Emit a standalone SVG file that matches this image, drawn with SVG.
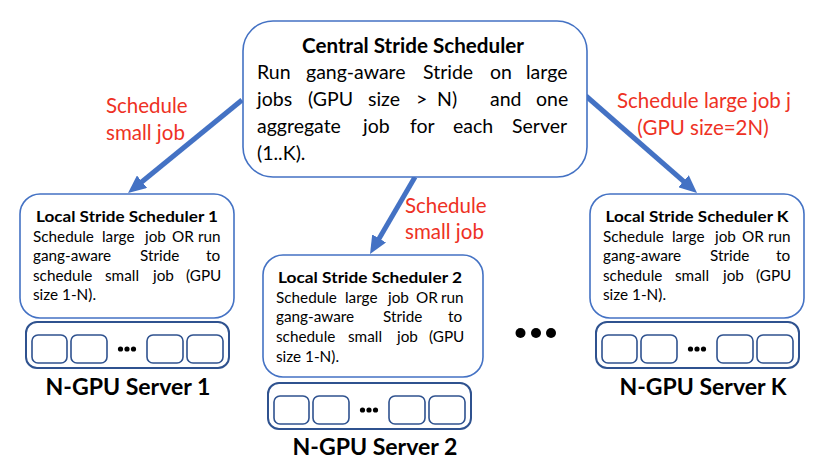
<svg xmlns="http://www.w3.org/2000/svg" width="826" height="470" viewBox="0 0 826 470">
<style>
.box{fill:#fff;stroke:#4472C4;stroke-width:1.6}
.srv{fill:#fff;stroke:#2F528F;stroke-width:2}
.gpu{fill:#fff;stroke:#2F528F;stroke-width:1.6}
.t{font-family:Lato,"Liberation Sans",sans-serif;fill:#000}
.ttl{font-weight:bold}
.cb{font-size:19.5px}
.lb{font-size:15.3px}
.red{font-family:Lato,"Liberation Sans",sans-serif;fill:#EE3124;font-size:20.5px}
.srvl{font-family:Lato,"Liberation Sans",sans-serif;font-weight:bold;font-size:23px;fill:#000;text-anchor:middle}
.arr{stroke:#4472C4;stroke-width:5;fill:none}
.dot{fill:#000}
</style>
<defs>
<marker id="ah" markerUnits="userSpaceOnUse" markerWidth="18" markerHeight="16" viewBox="0 0 18 16" refX="4" refY="8" orient="auto">
<path d="M0,0 L18,8 L0,16 z" fill="#4472C4"/>
</marker>
<g id="gpus">
<rect class="srv" x="0" y="0" width="203" height="46" rx="11"/>
<rect class="gpu" x="6" y="13" width="35" height="28" rx="6"/>
<rect class="gpu" x="45" y="13" width="36" height="28" rx="6"/>
<rect class="gpu" x="121" y="13" width="36" height="28" rx="6"/>
<rect class="gpu" x="161" y="13" width="36" height="28" rx="6"/>
<circle class="dot" cx="94.5" cy="27" r="2.6"/>
<circle class="dot" cx="101" cy="27" r="2.6"/>
<circle class="dot" cx="107.5" cy="27" r="2.6"/>
</g>
</defs>

<g id="connectors">
<line class="arr" x1="242" y1="100" x2="138.9" y2="184.2" marker-end="url(#ah)"/>
<line class="arr" x1="586" y1="96" x2="686.5" y2="183.8" marker-end="url(#ah)"/>
<line class="arr" x1="415" y1="177" x2="377.1" y2="241.9" marker-end="url(#ah)"/>
</g>

<g id="central">
<rect class="box" x="243" y="21" width="344" height="156" rx="30"/>
<text x="413" y="53" class="t ttl" font-size="20" text-anchor="middle" textLength="222" lengthAdjust="spacingAndGlyphs">Central Stride Scheduler</text>
<text y="79" class="t cb"><tspan x="257">Run</tspan><tspan x="306">gang-aware</tspan><tspan x="423">Stride</tspan><tspan x="490">on</tspan><tspan x="526">large</tspan></text>
<text y="106" class="t cb"><tspan x="257">jobs</tspan><tspan x="308">(GPU</tspan><tspan x="368">size</tspan><tspan x="416">&gt;</tspan><tspan x="437">N)</tspan><tspan x="490">and</tspan><tspan x="536">one</tspan></text>
<text y="133" class="t cb"><tspan x="257">aggregate</tspan><tspan x="363">job</tspan><tspan x="410">for</tspan><tspan x="453">each</tspan><tspan x="512">Server</tspan></text>
<text y="160" class="t cb"><tspan x="257">(1..K).</tspan></text>
</g>

<g id="label-left">
<text class="red"><tspan x="106" y="113">Schedule</tspan><tspan x="106" y="140">small job</tspan></text>
</g>
<g id="label-mid">
<text class="red"><tspan x="405" y="213">Schedule</tspan><tspan x="405" y="239">small job</tspan></text>
</g>
<g id="label-right">
<text class="red" text-anchor="middle"><tspan x="704" y="108">Schedule large job j</tspan><tspan x="703" y="135">(GPU size=2N)</tspan></text>
</g>

<g id="local1">
<rect class="box" x="20" y="194" width="214" height="124" rx="20"/>
<text x="127" y="222" class="t ttl" font-size="16" text-anchor="middle" textLength="182" lengthAdjust="spacingAndGlyphs">Local Stride Scheduler 1</text>
<text y="242" class="t lb"><tspan x="33">Schedule</tspan><tspan x="102">large</tspan><tspan x="145">job</tspan><tspan x="172">OR</tspan><tspan x="198">run</tspan></text>
<text y="261" class="t lb"><tspan x="33">gang-aware</tspan><tspan x="140">Stride</tspan><tspan x="206">to</tspan></text>
<text y="281" class="t lb"><tspan x="33">schedule</tspan><tspan x="105">small</tspan><tspan x="153">job</tspan><tspan x="186">(GPU</tspan></text>
<text y="300" class="t lb"><tspan x="33">size 1-N).</tspan></text>
</g>
<g id="server1">
<use href="#gpus" x="26" y="322"/>
<text x="128" y="395" class="srvl" textLength="165" lengthAdjust="spacingAndGlyphs">N-GPU Server 1</text>
</g>

<g id="local2">
<rect class="box" x="263" y="255" width="220" height="122" rx="20"/>
<text x="370" y="283" class="t ttl" font-size="16" text-anchor="middle" textLength="184" lengthAdjust="spacingAndGlyphs">Local Stride Scheduler 2</text>
<text y="303" class="t lb"><tspan x="276">Schedule</tspan><tspan x="345">large</tspan><tspan x="388">job</tspan><tspan x="416">OR</tspan><tspan x="441">run</tspan></text>
<text y="322" class="t lb"><tspan x="276">gang-aware</tspan><tspan x="383">Stride</tspan><tspan x="448">to</tspan></text>
<text y="342" class="t lb"><tspan x="276">schedule</tspan><tspan x="348">small</tspan><tspan x="397">job</tspan><tspan x="429">(GPU</tspan></text>
<text y="362" class="t lb"><tspan x="276">size 1-N).</tspan></text>
</g>
<g id="server2">
<use href="#gpus" x="268" y="383"/>
<text x="375" y="455" class="srvl" textLength="165" lengthAdjust="spacingAndGlyphs">N-GPU Server 2</text>
</g>

<g id="localK">
<rect class="box" x="590" y="194" width="214" height="124" rx="20"/>
<text x="697" y="222" class="t ttl" font-size="16" text-anchor="middle" textLength="183" lengthAdjust="spacingAndGlyphs">Local Stride Scheduler K</text>
<text y="242" class="t lb"><tspan x="603">Schedule</tspan><tspan x="672">large</tspan><tspan x="715">job</tspan><tspan x="742">OR</tspan><tspan x="768">run</tspan></text>
<text y="261" class="t lb"><tspan x="603">gang-aware</tspan><tspan x="710">Stride</tspan><tspan x="776">to</tspan></text>
<text y="281" class="t lb"><tspan x="603">schedule</tspan><tspan x="675">small</tspan><tspan x="723">job</tspan><tspan x="756">(GPU</tspan></text>
<text y="300" class="t lb"><tspan x="603">size 1-N).</tspan></text>
</g>
<g id="serverK">
<use href="#gpus" x="596" y="322"/>
<text x="703" y="395" class="srvl" textLength="167" lengthAdjust="spacingAndGlyphs">N-GPU Server K</text>
</g>

<g id="ellipsis">
<circle class="dot" cx="520.5" cy="333" r="5"/>
<circle class="dot" cx="536" cy="333" r="5"/>
<circle class="dot" cx="551" cy="333" r="5"/>
</g>
</svg>
